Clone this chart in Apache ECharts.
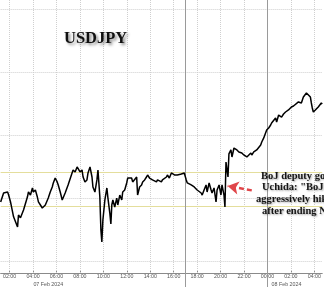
<!DOCTYPE html>
<html><head><meta charset="utf-8">
<script src="https://cdn.jsdelivr.net/npm/echarts@6/dist/echarts.min.js"></script>
<style>html,body{margin:0;padding:0;background:#fff}#c{width:324px;height:287px}</style>
</head><body><div id="c"></div>
<script>
const titleText = "USDJPY";
const tickHours = [2,4,6,8,10,12,14,16,18,20,22,24,26,28];
const tickLabels = ["02:00","04:00","06:00","08:00","10:00","12:00","14:00","16:00","18:00","20:00","22:00","00:00","02:00","04:00"];
const dateHours = [5.3, 25.62];
const dateLabels = ["07 Feb 2024", "08 Feb 2024"];
const gridPrices = [147.5, 148, 148.5, 149, 149.5];
const bandPrices = [147.935, 148.2];
const sessionHours = [17, 24];
const annotationLines = ['BoJ deputy gov', 'Uchida: "BoJ won\'t', 'aggressively hike', 'after ending NIRP"'];
const times = [1.24,1.49,1.83,1.92,2.08,2.34,2.51,2.68,2.76,2.93,3.10,3.19,3.52,3.61,3.78,3.95,4.03,4.20,4.37,4.46,4.63,4.79,4.88,5.05,5.30,5.47,5.64,5.73,5.89,6.06,6.15,6.32,6.49,6.57,6.74,6.99,7.33,7.42,7.59,7.76,7.84,8.01,8.18,8.27,8.43,8.60,8.69,8.86,9.03,9.11,9.28,9.45,9.54,9.70,9.79,9.87,9.96,10.13,10.30,10.38,10.55,10.64,10.72,10.81,10.97,11.14,11.23,11.40,11.57,11.65,11.82,11.99,12.08,12.25,12.41,12.50,12.67,12.84,12.92,13.09,13.26,13.35,13.52,13.68,13.77,13.94,14.11,14.19,14.36,14.53,14.62,14.79,14.95,15.04,15.21,15.38,15.46,15.63,15.80,16.06,16.31,16.65,16.90,17.07,17.16,17.49,17.75,18.00,18.34,18.43,18.59,18.76,18.85,19.02,19.19,19.27,19.44,19.61,19.70,19.87,20.03,20.12,20.29,20.37,20.46,20.63,20.71,20.88,20.97,21.14,21.31,21.39,21.56,21.73,21.81,21.98,22.15,22.24,22.41,22.58,22.66,22.83,23.00,23.08,23.25,23.42,23.51,23.68,23.84,23.93,24.10,24.27,24.35,24.69,24.78,24.95,25.20,25.37,25.54,25.79,26.04,26.22,26.38,26.64,26.89,27.06,27.23,27.32,27.49,27.66,27.74,27.82,27.91,28.08,28.33,28.59,28.67];
const prices = [147.968,148.039,148.047,148.023,147.968,147.850,147.842,147.770,147.865,147.842,147.850,147.904,148.007,148.047,148.023,148.079,148.047,148.063,148.007,147.968,147.944,147.920,147.928,147.944,147.999,148.047,148.087,148.119,148.158,148.127,148.103,148.047,147.984,147.984,148.039,148.103,148.198,148.222,148.206,148.246,148.238,148.206,148.222,148.166,148.127,148.143,148.198,148.246,148.166,148.087,148.047,148.143,148.222,148.007,147.746,147.651,147.825,147.984,148.079,148.007,147.880,147.793,147.944,147.984,147.928,147.999,147.944,148.023,147.984,148.047,148.063,148.119,148.158,148.143,148.158,148.127,148.119,148.166,148.023,148.087,148.103,148.127,148.143,148.166,148.182,148.158,148.166,148.143,148.158,148.127,148.143,148.158,148.127,148.143,148.158,148.166,148.182,148.158,148.198,148.182,148.182,148.190,148.198,148.143,148.119,148.103,148.087,148.063,148.039,148.023,148.063,148.103,148.047,148.119,148.063,148.039,148.079,147.968,148.063,148.103,148.023,148.103,148.023,147.928,148.285,148.166,148.349,148.381,148.325,148.396,148.396,148.381,148.365,148.357,148.357,148.341,148.341,148.325,148.341,148.357,148.341,148.365,148.357,148.381,148.396,148.420,148.444,148.476,148.484,148.539,148.555,148.579,148.595,148.635,148.603,148.658,148.642,148.666,148.682,148.698,148.722,148.730,148.738,148.762,148.754,148.801,148.801,148.833,148.841,148.801,148.754,148.714,148.682,148.698,148.722,148.754,148.746];

const xMin = 1.238, xMax = 28.67;
const yMin = 147.293, yMax = 149.571, axisPrice = 147.404;

const chart = echarts.init(document.getElementById('c'), null, {renderer: 'canvas'});
const seriesData = times.map((t, i) => [t, prices[i]]);
const gridMarks = [];
tickHours.forEach(h => { if (sessionHours.indexOf(h) < 0) gridMarks.push([{coord: [h, yMax]}, {coord: [h, axisPrice]}]); });
gridPrices.forEach(p => gridMarks.push([{coord: [xMin, p]}, {coord: [xMax, p]}]));

const serifFont = '"Liberation Serif", "Times New Roman", serif';
const graphics = [];
const annX = [261, 262, 256, 262];
annotationLines.forEach((t, i) => {
  graphics.push({type: 'text', x: annX[i], y: 176 + i * 11.7, z: 100,
    style: {text: t, fill: '#151515', font: 'bold 10.5px ' + serifFont, textVerticalAlign: 'middle',
      textShadowColor: 'rgba(0,0,0,0.35)', textShadowBlur: 2, textShadowOffsetX: 1, textShadowOffsetY: 1}});
});

chart.setOption({
  animation: false,
  backgroundColor: '#ffffff',
  title: {text: titleText, left: 64, top: 30, padding: 0,
    textStyle: {fontFamily: serifFont, fontWeight: 'bold', fontSize: 16.5, color: '#111',
      textShadowColor: 'rgba(0,0,0,0.45)', textShadowBlur: 3, textShadowOffsetX: 2, textShadowOffsetY: 2}},
  grid: {left: 0, right: 0, top: 0, bottom: 0, containLabel: false},
  xAxis: [{
    type: 'value', min: xMin, max: xMax, position: 'bottom', offset: -14,
    axisLine: {show: true, lineStyle: {color: '#8a8a8a', width: 1}},
    axisTick: {show: true, inside: true, length: 2, customValues: tickHours, lineStyle: {color: '#8a8a8a'}},
    axisLabel: {show: true, customValues: tickHours, margin: 1, fontSize: 5.3, color: '#555',
      fontFamily: '"Liberation Sans", Arial, sans-serif',
      formatter: v => { const i = tickHours.indexOf(Math.round(v)); return i >= 0 ? tickLabels[i] : ''; }},
    splitLine: {show: false}
  }, {
    type: 'value', min: xMin, max: xMax, position: 'bottom', offset: -6,
    axisLine: {show: false}, axisTick: {show: false},
    axisLabel: {show: true, customValues: dateHours, margin: 1, fontSize: 5.3, color: '#555',
      fontFamily: '"Liberation Sans", Arial, sans-serif',
      formatter: v => { let best = 0; dateHours.forEach((d, i) => { if (Math.abs(d - v) < Math.abs(dateHours[best] - v)) best = i; }); return dateLabels[best]; }},
    splitLine: {show: false}
  }],
  yAxis: {type: 'value', min: yMin, max: yMax, show: false, splitLine: {show: false}},
  graphic: graphics,
  series: [{
    type: 'line', data: seriesData, showSymbol: false, symbol: 'none', z: 3,
    lineStyle: {color: '#000', width: 1.5},
    markLine: {silent: true, symbol: 'none', z: 1, label: {show: false},
      lineStyle: {color: '#cfcfcf', type: 'dotted', width: 1},
      data: gridMarks}
  }, {
    type: 'line', data: [], z: 2,
    markLine: {silent: true, symbol: 'none', z: 2, label: {show: false},
      lineStyle: {color: '#e4de9c', type: 'solid', width: 1},
      data: bandPrices.map(p => [{coord: [xMin, p]}, {coord: [xMax, p]}])}
  }, {
    type: 'line', data: [], z: 2,
    markLine: {silent: true, symbol: 'none', z: 2, label: {show: false},
      lineStyle: {color: '#9a9a9a', type: 'solid', width: 1},
      data: sessionHours.map(h => [{coord: [h, yMax]}, {coord: [h, yMin]}])}
  }, {
    type: 'line', data: [], z: 6,
    markLine: {silent: true, symbol: ['none', 'arrow'], symbolSize: [10, 11], z: 6, label: {show: false},
      lineStyle: {color: '#e0464a', type: [5, 3], width: 2.5},
      data: [[{coord: [22.66, 148.06]}, {coord: [20.6, 148.095]}]]}
  }]
});
</script></body></html>
